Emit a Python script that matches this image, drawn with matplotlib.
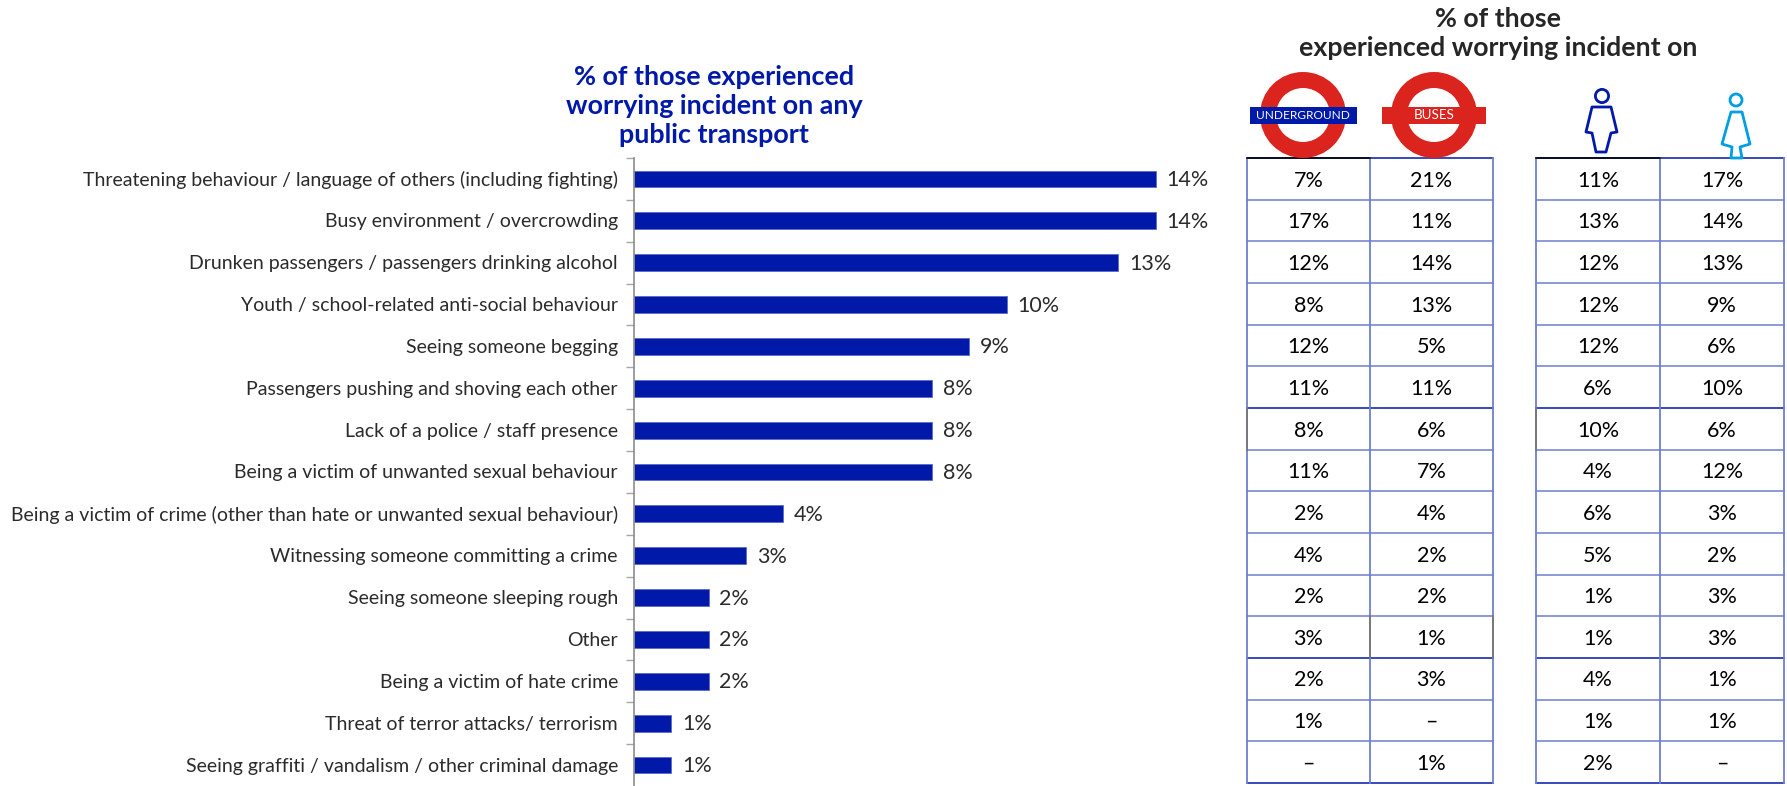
import matplotlib
matplotlib.use('Agg')
import matplotlib.pyplot as plt
from matplotlib.patches import Circle, Rectangle, Polygon

W, H = 1787, 786

categories = [
    "Threatening behaviour / language of others (including fighting)",
    "Busy environment / overcrowding",
    "Drunken passengers / passengers drinking alcohol",
    "Youth / school-related anti-social behaviour",
    "Seeing someone begging",
    "Passengers pushing and shoving each other",
    "Lack of a police / staff presence",
    "Being a victim of unwanted sexual behaviour",
    "Being a victim of crime (other than hate or unwanted sexual behaviour)",
    "Witnessing someone committing a crime",
    "Seeing someone sleeping rough",
    "Other",
    "Being a victim of hate crime",
    "Threat of terror attacks/ terrorism",
    "Seeing graffiti / vandalism / other criminal damage",
]
any_transport = [14, 14, 13, 10, 9, 8, 8, 8, 4, 3, 2, 2, 2, 1, 1]
underground = [7, 17, 12, 8, 12, 11, 8, 11, 2, 4, 2, 3, 2, 1, None]
buses = [21, 11, 14, 13, 5, 11, 6, 7, 4, 2, 2, 1, 3, None, 1]
men = [11, 13, 12, 12, 12, 6, 10, 4, 6, 5, 1, 1, 4, 1, 2]
women = [17, 14, 13, 9, 6, 10, 6, 12, 3, 2, 3, 3, 1, 1, None]

BLUE = '#0019A8'
RED = '#DC241F'
SKY = '#009FE0'
LINE = '#6F7FD0'
TEXT = '#2B2B2B'
FONT = 'Lato'

plt.rcParams['font.family'] = [FONT, 'DejaVu Sans']


def px_axes(fig, x0, y0, x1, y1):
    # axes from pixel box, y counted from the top
    return fig.add_axes([x0 / W, 1 - y1 / H, (x1 - x0) / W, (y1 - y0) / H])


def draw_table(fig, x0, y0, x1, y1, col_a, col_b, grey_cells):
    ax = px_axes(fig, x0, y0, x1, y1)
    ax.set_xlim(0, 2)
    ax.set_ylim(len(col_a), 0)
    ax.axis('off')
    n = len(col_a)
    for i in range(n + 1):
        ax.plot([0, 2], [i, i], color=BLUE if i in (0, 6, 12, n) else LINE,
                lw=1.1, clip_on=False, solid_capstyle='projecting')
    for j in range(3):
        ax.plot([j, j], [0, n], color=LINE, lw=1.3, clip_on=False)
    ax.plot([0, 1], [0, 0], color='black', lw=1.1, clip_on=False)
    for j, i in grey_cells:
        ax.plot([j, j], [i, i + 1], color='#777777', lw=1.3, clip_on=False)
    for j, col in enumerate([col_a, col_b]):
        for i, v in enumerate(col):
            label = '\u2013' if v is None else f'{v}%'
            ax.text(j + 0.5, i + 0.54, label, ha='center', va='center',
                    fontsize=15.5, color='black')


def roundel(ax, cx, cy, x0, x1, bar_color, label, size):
    ax.add_patch(Circle((cx, cy), 35, fill=False, ec=RED, lw=11.5))
    ax.add_patch(Rectangle((x0, cy - 8.5), x1 - x0, 17, fc=bar_color, ec='none'))
    ax.text(cx, cy + 0.3, label, ha='center', va='center', color='white', fontsize=size)


fig = plt.figure(figsize=(W / 100, H / 100), dpi=100)

# main bars
ax = px_axes(fig, 634, 158, 1200, 786)
y = list(range(len(categories)))
ax.barh(y, any_transport, height=0.4, color=BLUE, edgecolor='#5A6BC8', linewidth=0.6)
ax.set_xlim(0, 566 / 37.25)
ax.set_ylim(len(categories) - 0.5, -0.5)
for side in ('top', 'right', 'bottom'):
    ax.spines[side].set_visible(False)
ax.spines['left'].set_color('#8C8C8C')
ax.spines['left'].set_linewidth(1.2)
ax.xaxis.set_visible(False)
ax.set_yticks([i - 0.5 for i in range(len(categories))])
ax.set_yticklabels([])
ax.tick_params(axis='y', length=6, color='#A6A6A6', width=1)
for i, name in enumerate(categories):
    ax.annotate(name, (0, i), xytext=(-16, -1), textcoords='offset pixels',
                ha='right', va='center', fontsize=14, color=TEXT)
    ax.annotate(f'{any_transport[i]}%', (any_transport[i], i), xytext=(11, -1),
                textcoords='offset pixels', ha='left', va='center',
                fontsize=15.5, color=TEXT)

draw_table(fig, 1247, 158, 1493, 783, underground, buses, [(0, 6), (1, 11), (2, 11)])
draw_table(fig, 1536, 158, 1784, 783, men, women, [(0, 6)])

# overlay in pixel coordinates for titles and icons
ov = fig.add_axes([0, 0, 1, 1], facecolor='none')
ov.set_xlim(0, W)
ov.set_ylim(H, 0)
ov.axis('off')

left_title = ["% of those experienced", "worrying incident on any", "public transport"]
for line, ty in zip(left_title, [77, 106, 135]):
    ov.text(714, ty, line, ha='center', va='center', color=BLUE,
            fontsize=19.4, fontweight='bold')
right_title = ["% of those", "experienced worrying incident on"]
for line, ty in zip(right_title, [19, 48]):
    ov.text(1498, ty, line, ha='center', va='center', color='#262626',
            fontsize=19.3, fontweight='bold')

roundel(ov, 1303, 115, 1250, 1357, BLUE, 'UNDERGROUND', 8.6)
roundel(ov, 1434, 115, 1382, 1486, RED, 'BUSES', 9.6)

# man
ov.add_patch(Circle((1602, 96), 6.6, fill=False, ec=BLUE, lw=2))
ov.add_patch(Polygon([(1592, 107), (1611, 107), (1617, 132), (1611, 133), (1606, 152),
                      (1596, 152), (1592, 133), (1586, 132)],
                     closed=True, fill=False, ec=BLUE, lw=2, joinstyle='round'))
# woman
ov.add_patch(Circle((1736, 100), 6, fill=False, ec=SKY, lw=2))
ov.add_patch(Polygon([(1731, 112), (1742, 112), (1750, 144), (1740, 147), (1742, 158),
                      (1731, 158), (1732, 147), (1722, 144)],
                     closed=True, fill=False, ec=SKY, lw=2, joinstyle='round'))

fig.savefig('out.png', dpi=100)
